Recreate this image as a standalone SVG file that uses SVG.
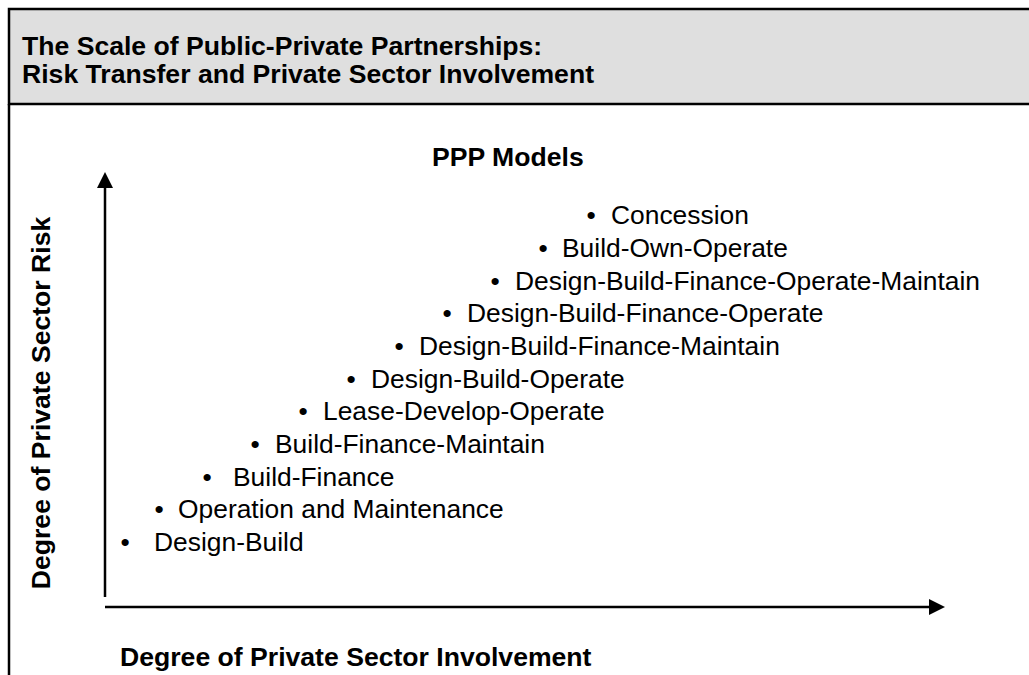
<svg xmlns="http://www.w3.org/2000/svg" width="1029" height="675" viewBox="0 0 1029 675">
<style>
.t{font-family:"Liberation Sans",Arial,sans-serif;fill:#000}
.b{font-weight:bold;font-size:26.6px}
.i{font-size:26.4px}
.ax{stroke:#000;stroke-width:2.5;fill:none}
</style>
<defs>
<marker id="ah" viewBox="0 0 16 16" refX="0" refY="8" markerWidth="16" markerHeight="16" markerUnits="userSpaceOnUse" orient="auto">
<path d="M0,0 L16,8 L0,16 Z" fill="#000"/>
</marker>
</defs>
<rect width="1029" height="675" fill="#fff"/>
<g id="header">
<rect x="9" y="9" width="1030" height="95" fill="#dfdfdf" stroke="#000" stroke-width="2.5"/>
<text class="t b" x="22" y="54.5">The Scale of Public-Private Partnerships:</text>
<text class="t b" x="22" y="82.5">Risk Transfer and Private Sector Involvement</text>
</g>
<line x1="9" y1="104" x2="9" y2="675" stroke="#000" stroke-width="2.5"/>
<g id="connectors">
<line class="ax" x1="105" y1="597" x2="105" y2="188" marker-end="url(#ah)"/>
<line class="ax" x1="105" y1="607" x2="929" y2="607" marker-end="url(#ah)"/>
</g>
<g id="labels">
<text class="t b" x="432" y="166">PPP Models</text>
<text class="t b" x="120" y="665.5">Degree of Private Sector Involvement</text>
<text class="t b" transform="translate(50,403) rotate(-90)" text-anchor="middle">Degree of Private Sector Risk</text>
</g>
<g id="models" class="t i">
<g id="m1"><text x="586.5" y="224">•</text><text x="611" y="224">Concession</text></g>
<g id="m2"><text x="538.5" y="257">•</text><text x="562" y="257">Build-Own-Operate</text></g>
<g id="m3"><text x="490.5" y="290">•</text><text x="515" y="290">Design-Build-Finance-Operate-Maintain</text></g>
<g id="m4"><text x="442.5" y="322">•</text><text x="467" y="322">Design-Build-Finance-Operate</text></g>
<g id="m5"><text x="394.5" y="355">•</text><text x="419" y="355">Design-Build-Finance-Maintain</text></g>
<g id="m6"><text x="346.5" y="388">•</text><text x="371" y="388">Design-Build-Operate</text></g>
<g id="m7"><text x="298.5" y="420">•</text><text x="323" y="420">Lease-Develop-Operate</text></g>
<g id="m8"><text x="250.5" y="453">•</text><text x="275" y="453">Build-Finance-Maintain</text></g>
<g id="m9"><text x="202.5" y="486">•</text><text x="233" y="486">Build-Finance</text></g>
<g id="m10"><text x="154.5" y="518">•</text><text x="178" y="518">Operation and Maintenance</text></g>
<g id="m11"><text x="120.5" y="551">•</text><text x="154" y="551">Design-Build</text></g>
</g>
</svg>
